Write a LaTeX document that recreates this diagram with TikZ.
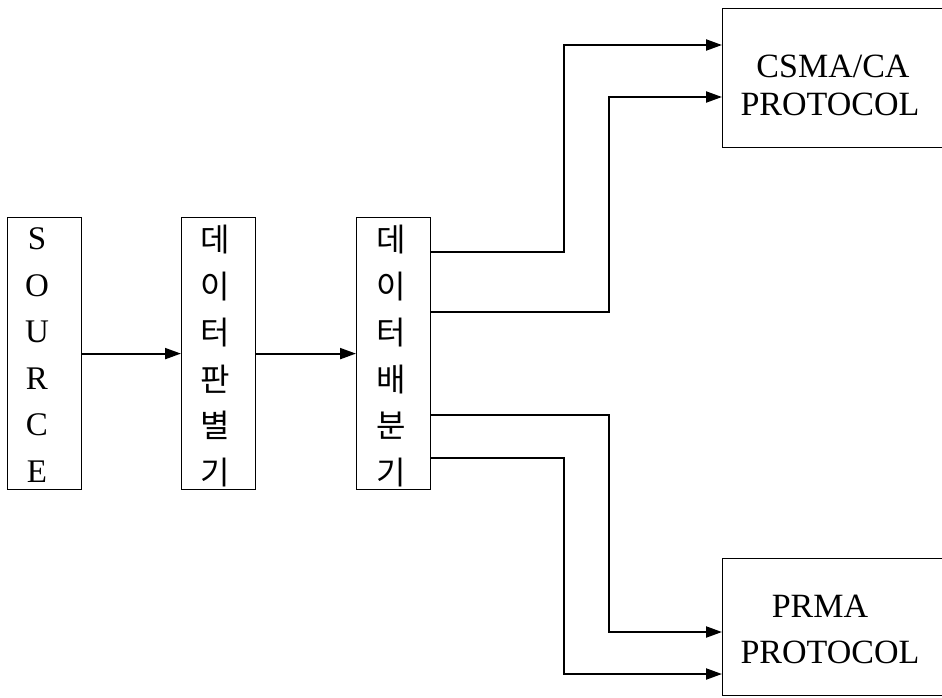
\documentclass[tikz,border=0pt]{standalone}
\usepackage{fontspec}
\setmainfont{Liberation Serif}
\newfontfamily\kr{Noto Sans CJK KR}
\usetikzlibrary{arrows.meta,calc}
\begin{document}
\begin{tikzpicture}[x=1pt,y=-1pt,
  box/.style={draw,line width=1.2pt,inner sep=0pt,anchor=north west},
  vbox/.style={box,minimum width=74pt,minimum height=272pt},
  pbox/.style={box,minimum width=240pt,minimum height=#1},
  stack/.style={align=center,inner sep=0pt,font=\fontsize{33}{46.6}\selectfont},
  krstack/.style={align=center,inner sep=0pt,font=\kr\fontsize{32}{46.6}\selectfont},
  label/.style={align=center,inner sep=0pt,font=\fontsize{34}{38}\selectfont},
  arr/.style={line width=2.1pt,-{Triangle[length=16pt,width=11pt]}}]
\useasboundingbox (0,0) rectangle (942,697);
\clip (0,0) rectangle (942,697);
% boxes
\node[vbox] (src) at (7,217) {};
\node[vbox] (b2) at (181,217) {};
\node[vbox] (b3) at (356,217) {};
\node[pbox=139pt] (csma) at (722,8) {};
\node[pbox=137pt] (prma) at (722,558) {};
% texts
\node[stack] (srct) at (37,355) {S\\O\\U\\R\\C\\E};
\node[krstack] (b2t) at (215,356) {데\\이\\터\\판\\별\\기};
\node[krstack] (b3t) at (391,356) {데\\이\\터\\배\\분\\기};
\node[label,anchor=base] (csmat) at (833,77) {CSMA/CA};
\node[label,anchor=base] (csmap) at (830,115) {PROTOCOL};
\node[label,anchor=base] (prmat) at (820,617) {PRMA};
\node[label,anchor=base] (prmap) at (830,663) {PROTOCOL};
% ports
\coordinate (o1) at ($(b3.north east)+(0,35)$);
\coordinate (o2) at ($(b3.north east)+(0,95)$);
\coordinate (o3) at ($(b3.north east)+(0,198)$);
\coordinate (o4) at ($(b3.north east)+(0,241)$);
\coordinate (i1) at ($(csma.north west)+(0,37)$);
\coordinate (i2) at ($(csma.north west)+(0,89)$);
\coordinate (i3) at ($(prma.north west)+(0,74)$);
\coordinate (i4) at ($(prma.north west)+(0,116)$);
% connectors
\draw[arr] (src.east) -- (b2.west);
\draw[arr] (b2.east) -- (b3.west);
\draw[arr] (o1) -| (564,45) -- (i1);
\draw[arr] (o2) -| (609,97) -- (i2);
\draw[arr] (o3) -| (609,632) -- (i3);
\draw[arr] (o4) -| (564,674) -- (i4);
\end{tikzpicture}
\end{document}
